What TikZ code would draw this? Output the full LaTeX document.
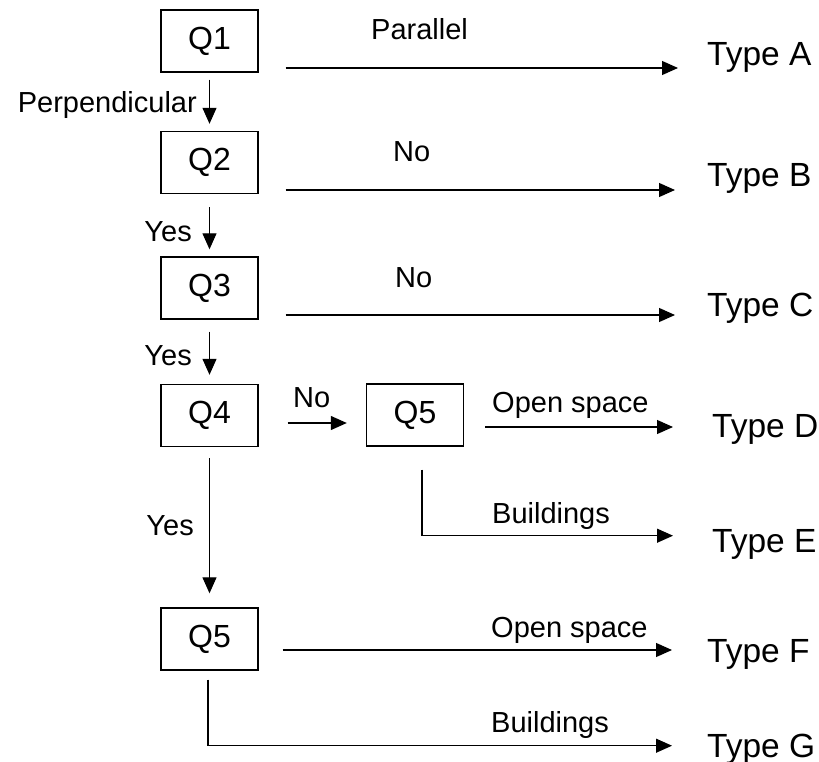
\documentclass[tikz,border=0pt]{standalone}
\usepackage{fontspec}
\setmainfont{Liberation Sans}
\usetikzlibrary{arrows.meta,calc}
\begin{document}
\begin{tikzpicture}[x=1pt,y=-1pt,
  qbox/.style={draw,line width=1.4pt,minimum width=97pt,minimum height=62pt,inner sep=0pt,font=\fontsize{32}{34}\selectfont},
  typelbl/.style={inner sep=0pt,anchor=base west,font=\fontsize{33.5}{36}\selectfont},
  elbl/.style={inner sep=0pt,font=\fontsize{29}{31}\selectfont},
  arr/.style={line width=1.2pt,-{Triangle[length=16pt,width=14pt]}},
  ln/.style={line width=1.2pt}]
\useasboundingbox (0,0) rectangle (819,762);
\fill[white] (0,0) rectangle (819,762);
% boxes
\node[qbox] (Q1) at (209.5,41) {Q1};
\node[qbox] (Q2) at (209.5,162.5) {Q2};
\node[qbox] (Q3) at (209.5,288) {Q3};
\node[qbox] (Q4) at (209.5,415.5) {Q4};
\node[qbox] (Q5a) at (415,415) {Q5};
\node[qbox] (Q5b) at (209.5,639) {Q5};
% type labels
\node[typelbl] (TA) at (707,66) {Type A};
\node[typelbl] (TB) at (707,187) {Type B};
\node[typelbl] (TC) at (707,316) {Type C};
\node[typelbl] (TD) at (712,437) {Type D};
\node[typelbl] (TE) at (712,552) {Type E};
\node[typelbl] (TF) at (707,662) {Type F};
\node[typelbl] (TG) at (707,757) {Type G};
% vertical arrows
\draw[arr,shorten <=7pt,shorten >=7pt] (Q1) -- (Q2);
\draw[arr,shorten <=13pt,shorten >=7pt] (Q2) -- (Q3);
\draw[arr,shorten <=12pt,shorten >=9pt] (Q3) -- (Q4);
\draw[arr,shorten <=11pt,shorten >=14pt] (Q4) -- (Q5b);
% horizontal start points
\coordinate (s1) at ([xshift=27pt,yshift=-27pt]Q1.east);
\coordinate (s2) at ([xshift=27pt,yshift=-27.5pt]Q2.east);
\coordinate (s3) at ([xshift=27pt,yshift=-27pt]Q3.east);
\coordinate (s4) at ([xshift=29pt,yshift=-7.5pt]Q4.east);
\coordinate (s5) at ([xshift=21pt,yshift=-12pt]Q5a.east);
\coordinate (s6) at ([xshift=7pt,yshift=-23pt]Q5a.south);
\coordinate (c6) at ([yshift=-66pt]s6);
\coordinate (s7) at ([xshift=24pt,yshift=-11pt]Q5b.east);
\coordinate (s8) at ([xshift=-1.5pt,yshift=-9pt]Q5b.south);
\coordinate (c8) at ([yshift=-66pt]s8);
% horizontal arrows
\draw[arr,shorten >=29pt] (s1) -- (s1 -| TA.west);
\draw[arr,shorten >=32pt] (s2) -- (s2 -| TB.west);
\draw[arr,shorten >=32pt] (s3) -- (s3 -| TC.west);
\draw[arr,shorten >=19pt] (s4) -- (s4 -| Q5a.west);
\draw[arr,shorten >=39pt] (s5) -- (s5 -| TD.west);
\draw[arr,shorten >=39pt] (s6) -- (c6) -- (c6 -| TE.west);
\draw[arr,shorten >=35pt] (s7) -- (s7 -| TF.west);
\draw[arr,shorten >=35pt] (s8) -- (c8) -- (c8 -| TG.west);
% edge labels
\node[elbl,anchor=base west] (lPar) at (371,40) {Parallel};
\node[elbl,anchor=base east] (lPerp) at (197,113) {Perpendicular};
\node[elbl,anchor=base west] (lNo1) at (393,162) {No};
\node[elbl,anchor=base east] (lYes1) at (192,241) {Yes};
\node[elbl,anchor=base west] (lNo2) at (395,287) {No};
\node[elbl,anchor=base east] (lYes2) at (192,365) {Yes};
\node[elbl,anchor=base west] (lNo3) at (293,407) {No};
\node[elbl,anchor=base west] (lOS1) at (492,412) {Open space};
\node[elbl,anchor=base west] (lB1) at (492,523) {Buildings};
\node[elbl,anchor=base east] (lYes3) at (194,535) {Yes};
\node[elbl,anchor=base west] (lOS2) at (491,637) {Open space};
\node[elbl,anchor=base west] (lB2) at (491,732) {Buildings};
\end{tikzpicture}
\end{document}
